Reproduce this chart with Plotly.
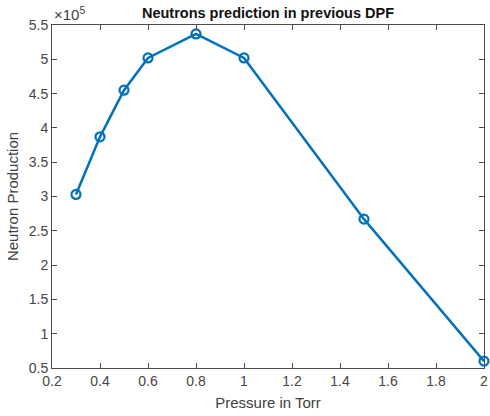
import plotly.graph_objects as go

pressure = [0.3, 0.4, 0.5, 0.6, 0.8, 1.0, 1.5, 2.0]
neutrons = [3.03, 3.87, 4.55, 5.02, 5.37, 5.02, 2.67, 0.60]  # x 10^5
x_ticks = [0.2, 0.4, 0.6, 0.8, 1.0, 1.2, 1.4, 1.6, 1.8, 2.0]
x_ticktext = ["0.2", "0.4", "0.6", "0.8", "1", "1.2", "1.4", "1.6", "1.8", "2"]
y_ticks = [0.5, 1, 1.5, 2, 2.5, 3, 3.5, 4, 4.5, 5, 5.5]
y_ticktext = ["0.5", "1", "1.5", "2", "2.5", "3", "3.5", "4", "4.5", "5", "5.5"]

FONT = "Liberation Sans, Arial, sans-serif"
AXC = "#4d4d4d"

fig = go.Figure()
fig.add_trace(go.Scatter(
    x=pressure, y=neutrons, mode="lines+markers",
    line=dict(color="#0072BD", width=2.5),
    marker=dict(symbol="circle-open", size=9, color="#0072BD", line=dict(width=2.2)),
    cliponaxis=False, showlegend=False,
))

axis_common = dict(
    showline=True, linecolor=AXC, linewidth=1, mirror="ticks",
    ticks="inside", ticklen=5, tickcolor=AXC, tickwidth=1,
    showgrid=False, zeroline=False, ticklabeloverflow="allow",
    tickfont=dict(family=FONT, size=14, color="#454545"),
)

fig.update_layout(
    width=490, height=416,
    margin=dict(l=52, r=2, t=25, b=48),
    paper_bgcolor="white", plot_bgcolor="white",
    title=dict(text="<b>Neutrons prediction in previous DPF</b>",
               xref="paper", x=0.5, xanchor="center", y=1 - 13 / 416, yanchor="middle",
               font=dict(family=FONT, size=14.5, color="#111111")),
    xaxis=dict(range=[0.2, 2.0], tickvals=x_ticks, ticktext=x_ticktext,
               title=dict(text="Pressure in Torr", font=dict(family=FONT, size=15, color="#404040"), standoff=9),
               **axis_common),
    yaxis=dict(range=[0.5, 5.5], tickvals=y_ticks, ticktext=y_ticktext,
               title=dict(text="Neutron Production", font=dict(family=FONT, size=15, color="#404040"), standoff=6),
               **axis_common),
    annotations=[dict(text="\u00d710<sup>5</sup>", xref="paper", yref="paper",
                      x=0, y=1, xanchor="left", yanchor="bottom", yshift=0, showarrow=False,
                      font=dict(family=FONT, size=15, color="#404040"))],
)

fig.write_html("out.html")
